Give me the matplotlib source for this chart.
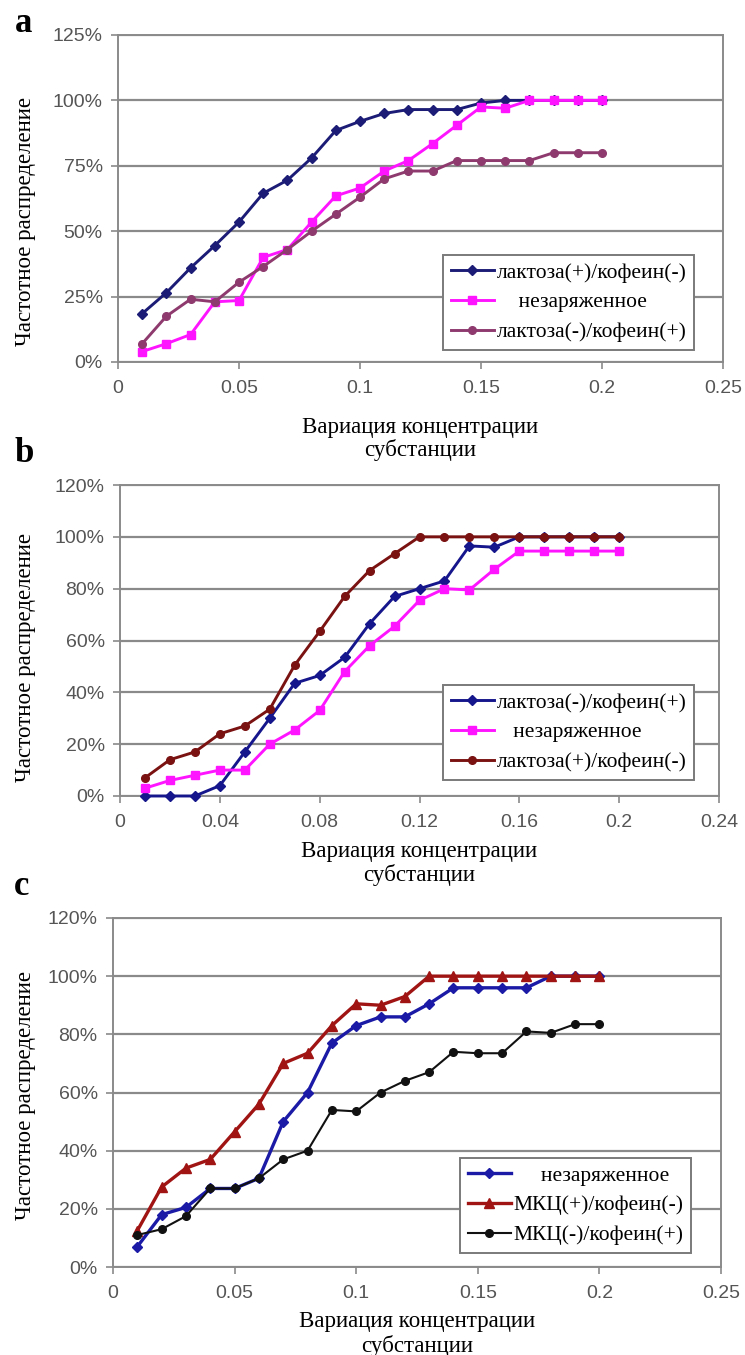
import matplotlib
matplotlib.use("Agg")
import matplotlib.pyplot as plt
from matplotlib.ticker import MultipleLocator, FuncFormatter

W, H, DPI = 745, 1355, 100

conc = [0.01, 0.02, 0.03, 0.04, 0.05, 0.06, 0.07, 0.08, 0.09, 0.10,
        0.11, 0.12, 0.13, 0.14, 0.15, 0.16, 0.17, 0.18, 0.19, 0.20]

# ---- panel a ----
a_labels = ["лактоза(+)/кофеин(-)", "    незаряженное", "лактоза(-)/кофеин(+)"]
a_lact_pos = [18.5, 26.5, 36, 44.5, 53.5, 64.5, 69.5, 78, 88.5, 92,
              95, 96.5, 96.5, 96.5, 99, 100, 100, 100, 100, 100]
a_neutral = [4, 7, 10.5, 23, 23.5, 40, 43, 53.5, 63.5, 66.5,
             73, 77, 83.5, 90.5, 97.5, 97, 100, 100, 100, 100]
a_lact_neg = [7, 17.5, 24, 23, 30.5, 36.5, 43, 50, 56.5, 63,
              70, 73, 73, 77, 77, 77, 77, 80, 80, 80]

# ---- panel b ----
b_labels = ["лактоза(-)/кофеин(+)", "   незаряженное", "лактоза(+)/кофеин(-)"]
b_lact_neg = [0, 0, 0, 4, 17, 30, 43.5, 46.5, 53.5, 66.5,
              77, 80, 83, 96.5, 96, 100, 100, 100, 100, 100]
b_neutral = [3, 6, 8, 10, 10, 20, 25.5, 33, 48, 58,
             65.5, 75.5, 80, 79.5, 87.5, 94.5, 94.5, 94.5, 94.5, 94.5]
b_lact_pos = [7, 14, 17, 24, 27, 33.5, 50.5, 63.5, 77, 87,
              93.5, 100, 100, 100, 100, 100, 100, 100, 100, 100]

# ---- panel c ----
c_labels = ["     незаряженное", "МКЦ(+)/кофеин(-)", "МКЦ(-)/кофеин(+)"]
c_neutral = [7, 18, 20.5, 27, 27, 30.5, 50, 60, 77, 83,
             86, 86, 90.5, 96, 96, 96, 96, 100, 100, 100]
c_mcc_pos = [12.5, 27.5, 34, 37, 46.5, 56, 70, 73.5, 83, 90.5,
             90, 93, 100, 100, 100, 100, 100, 100, 100, 100]
c_mcc_neg = [11, 13, 17.5, 27, 27, 30.5, 37, 40, 54, 53.5,
             60, 64, 67, 74, 73.5, 73.5, 81, 80.5, 83.5, 83.5]

SERIF = ["Liberation Serif", "DejaVu Serif"]
SANS = ["Liberation Sans", "DejaVu Sans"]
GRID = "#8a8a8a"

fig = plt.figure(figsize=(W / DPI, H / DPI), dpi=DPI)


def add_ax(left, top, right, bottom):
    return fig.add_axes([left / W, 1 - bottom / H, (right - left) / W, (bottom - top) / H])


def style(ax, xmax, xstep, ymax, ystep):
    ax.set_xlim(0, xmax)
    ax.set_ylim(0, ymax)
    ax.xaxis.set_major_locator(MultipleLocator(xstep))
    ax.yaxis.set_major_locator(MultipleLocator(ystep))
    ax.xaxis.set_major_formatter(FuncFormatter(lambda v, p: "%g" % round(v, 4)))
    ax.yaxis.set_major_formatter(FuncFormatter(lambda v, p: "%d%%" % round(v)))
    ax.grid(axis="y", color=GRID, linewidth=1.6, zorder=0)
    ax.set_axisbelow(True)
    for s in ax.spines.values():
        s.set_color(GRID)
        s.set_linewidth(1.4)
    ax.tick_params(direction="out", length=5, width=1.2, color=GRID,
                   labelsize=14, labelcolor="#555555")
    ax.tick_params(axis="x", pad=8)
    ax.tick_params(axis="y", pad=6)
    for lab in ax.get_xticklabels() + ax.get_yticklabels():
        lab.set_family(SANS)


def legend(ax, x, y):
    leg = ax.legend(loc="upper left", bbox_to_anchor=(x / W, 1 - y / H),
                    bbox_transform=fig.transFigure, borderaxespad=0,
                    prop={"family": SERIF, "size": 15.5}, frameon=True,
                    fancybox=False, framealpha=1, edgecolor="#7a7a7a",
                    handlelength=2.0, handletextpad=0.15, labelspacing=0.45,
                    borderpad=0.35)
    leg.get_frame().set_linewidth(1.4)
    return leg


def texts(ax_left, ax_right, ylab_c, xl1, xl2, letter, lx, ly):
    xc = (ax_left + ax_right) / 2
    fig.text(26 / W, 1 - ylab_c / H, "Частотное распределение", rotation=90,
             ha="center", va="center", family=SERIF, fontsize=16.5)
    fig.text(xc / W, 1 - xl1 / H, "Вариация концентрации", ha="center",
             va="center", family=SERIF, fontsize=16.5)
    fig.text(xc / W, 1 - xl2 / H, "субстанции", ha="center",
             va="center", family=SERIF, fontsize=16.5)
    fig.text(lx / W, 1 - ly / H, letter, ha="center", va="baseline",
             family=SERIF, fontsize=25, fontweight="bold")


LW = 2.1

# ---------- panel a ----------
axa = add_ax(118, 35, 723, 362)
style(axa, 0.25, 0.05, 125, 25)
axa.plot(conc, a_lact_pos, color="#1c1c76", lw=LW, marker="D", ms=5.5,
         label=a_labels[0], clip_on=False, zorder=3)
axa.plot(conc, a_neutral, color="#ff14ff", lw=LW, marker="s", ms=6,
         label=a_labels[1], clip_on=False, zorder=4)
axa.plot(conc, a_lact_neg, color="#8e3a6e", lw=LW, marker="o", ms=5.5,
         label=a_labels[2], clip_on=False, zorder=5)
legend(axa, 443, 255)
texts(118, 723, 221, 428, 450, "a", 24, 32)

# ---------- panel b ----------
axb = add_ax(120, 485, 719, 796)
style(axb, 0.24, 0.04, 120, 20)
axb.plot(conc, b_lact_neg, color="#16168c", lw=LW, marker="D", ms=5.5,
         label=b_labels[0], clip_on=False, zorder=3)
axb.plot(conc, b_neutral, color="#ff14ff", lw=LW, marker="s", ms=6,
         label=b_labels[1], clip_on=False, zorder=4)
axb.plot(conc, b_lact_pos, color="#7a1212", lw=LW, marker="o", ms=5.5,
         label=b_labels[2], clip_on=False, zorder=5)
legend(axb, 443, 685)
texts(120, 719, 658, 852, 875, "b", 24, 462)

# ---------- panel c ----------
axc = add_ax(113, 918, 721, 1267)
style(axc, 0.25, 0.05, 120, 20)
axc.plot(conc, c_neutral, color="#1a1aa6", lw=2.4, marker="D", ms=5.5,
         label=c_labels[0], clip_on=False, zorder=3)
axc.plot(conc, c_mcc_pos, color="#a01414", lw=2.4, marker="^", ms=6.5,
         label=c_labels[1], clip_on=False, zorder=4)
axc.plot(conc, c_mcc_neg, color="#111111", lw=1.5, marker="o", ms=5.5,
         label=c_labels[2], clip_on=False, zorder=5)
legend(axc, 460, 1158)
texts(113, 721, 1095, 1321, 1346, "c", 22, 895)

fig.savefig("out.png", dpi=DPI, facecolor="white")
